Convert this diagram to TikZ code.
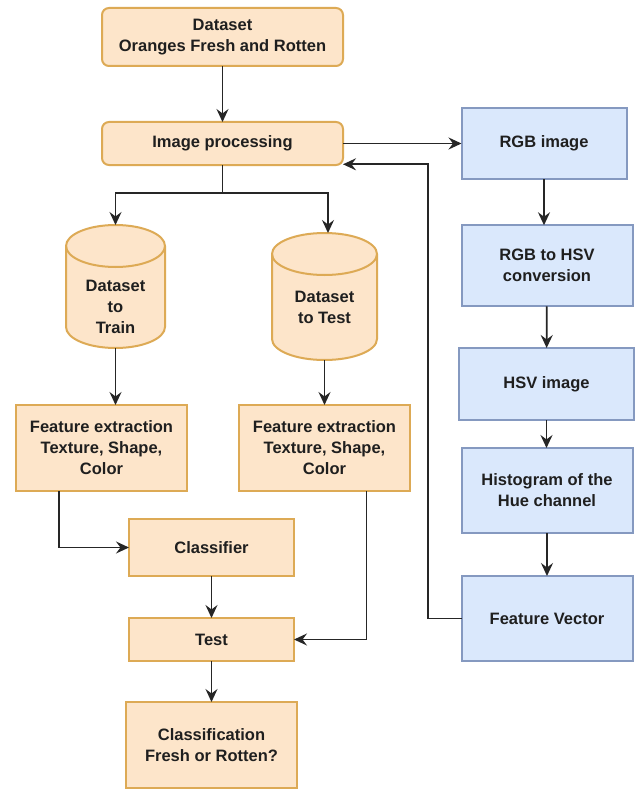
\documentclass[tikz,border=0pt]{standalone}
\usepackage{fontspec}
\setmainfont{Liberation Sans}
\usetikzlibrary{arrows.meta}
\definecolor{orfill}{HTML}{FDE5CA}
\definecolor{orline}{HTML}{DDAA55}
\definecolor{blfill}{HTML}{DAE8FC}
\definecolor{blline}{HTML}{8599C0}
\definecolor{lin}{HTML}{262626}
\begin{document}
\begin{tikzpicture}[x=1pt,y=-1pt,
  every node/.style={font=\bfseries\fontsize{16.5}{21}\selectfont, text=black!88, align=center, inner sep=0pt, outer sep=0pt},
  obox/.style={draw=orline, fill=orfill, line width=2pt},
  rbox/.style={obox, rounded corners=7pt},
  bbox/.style={draw=blline, fill=blfill, line width=2pt},
  cylpath/.style={draw=orline, fill=orfill, line width=2pt},
  arr/.style={draw=lin, line width=1.7pt, -{Stealth[length=13pt,width=12pt,inset=4.5pt]}},
  con/.style={draw=lin, line width=1.7pt}
]
\useasboundingbox (0,0) rectangle (637,789);
\fill[white] (0,0) rectangle (637,789);

% left column, orange
\node[rbox, minimum width=241pt, minimum height=58pt] (ds) at (222.5,37) {Dataset\\Oranges Fresh and Rotten};
\node[rbox, minimum width=241pt, minimum height=43pt] (ip) at (222.5,143.5) {Image processing};

% cylinders
\path[cylpath] (66,246) -- (66,327) arc[start angle=180,end angle=360,x radius=49.5pt,y radius=21pt]
  -- (165,246) arc[start angle=0,end angle=180,x radius=49.5pt,y radius=21pt] -- cycle;
\draw[draw=orline, line width=2pt] (66,246) arc[start angle=180,end angle=360,x radius=49.5pt,y radius=21pt];
\path[cylpath] (272,254) -- (272,339) arc[start angle=180,end angle=360,x radius=52.5pt,y radius=21pt]
  -- (377,254) arc[start angle=0,end angle=180,x radius=52.5pt,y radius=21pt] -- cycle;
\draw[draw=orline, line width=2pt] (272,254) arc[start angle=180,end angle=360,x radius=52.5pt,y radius=21pt];
\node[minimum width=99pt, minimum height=123pt] (cyl1) at (115.5,286.5) {};
\node[minimum width=105pt, minimum height=127pt] (cyl2) at (324.5,296.5) {};
\node (cyl1t) at (115.5,307) {Dataset\\to\\Train};
\node (cyl2t) at (324.5,307) {Dataset\\to Test};

\node[obox, minimum width=171pt, minimum height=86pt] (fe1) at (101.5,448) {Feature extraction\\Texture, Shape,\\Color};
\node[obox, minimum width=171pt, minimum height=86pt] (fe2) at (324.5,448) {Feature extraction\\Texture, Shape,\\Color};
\node[obox, minimum width=165pt, minimum height=57pt] (cls) at (211.5,547.5) {Classifier};
\node[obox, minimum width=165pt, minimum height=43pt] (test) at (211.5,639.5) {Test};
\node[obox, minimum width=171pt, minimum height=86pt] (res) at (211.5,745) {Classification\\Fresh or Rotten?};

% right column, blue
\node[bbox, minimum width=165pt, minimum height=71pt] (rgb) at (544,143.5) {RGB image};
\node[bbox, minimum width=171pt, minimum height=81pt] (conv) at (547,265.75) {RGB to HSV\\conversion};
\node[bbox, minimum width=175pt, minimum height=72pt] (hsv) at (546.5,384) {HSV image};
\node[bbox, minimum width=171pt, minimum height=85pt] (hist) at (547,490.5) {Histogram of the\\Hue channel};
\node[bbox, minimum width=171pt, minimum height=85pt] (fv) at (547,618.5) {Feature Vector};

% connectors
\coordinate (split) at (222.5,193);
\coordinate (ret) at (427.7,618.5);
\draw[arr] (ds) -- (ip);
\draw[arr] (ip.east) -- (rgb.west);
\draw[con] (ip.south) -- (split);
\draw[arr] (split) -| (cyl1.north);
\draw[arr] (split) -| ([xshift=3.5pt]cyl2.north);
\draw[arr] (cyl1.south) -- (cyl1.south |- fe1.north);
\draw[arr] (cyl2.south) -- (cyl2.south |- fe2.north);
\draw[arr] ([xshift=-42.5pt]fe1.south) |- (cls.west);
\draw[arr] (cls) -- (test);
\draw[arr] ([xshift=42pt]fe2.south) |- (test.east);
\draw[arr] (test) -- (res);
\draw[arr] (rgb.south) -- (rgb.south |- conv.north);
\draw[arr] (conv) -- (hsv);
\draw[arr] (hsv.south) -- (hsv.south |- hist.north);
\draw[arr] (hist) -- (fv);
\draw[con] (fv.west) -- (ret);
\draw[arr] (ret) |- ([yshift=-20.8pt]ip.east);
\end{tikzpicture}
\end{document}
